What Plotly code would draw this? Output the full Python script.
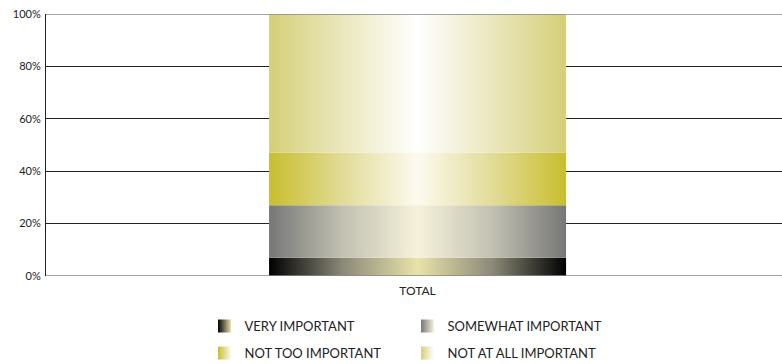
import plotly.graph_objects as go

# Survey response shares (percent of respondents), stacked bottom to top
categories = ["TOTAL"]
series_names = ["VERY IMPORTANT", "SOMEWHAT IMPORTANT", "NOT TOO IMPORTANT", "NOT AT ALL IMPORTANT"]
series_values = [7, 20, 20, 53]
y_tick_vals = [0, 20, 40, 60, 80, 100]
y_tick_text = ["0%", "20%", "40%", "60%", "80%", "100%"]

# Horizontal gradient for each segment: edge colour -> mid tone -> centre highlight
gradients = [
    ["#000000", "#8c8a78", "#e9e3a9"],
    ["#777777", "#c2c1b2", "#f6f2da"],
    ["#c8be2e", "#e2dc98", "#fcfaf0"],
    ["#d5cf78", "#ebe7be", "#ffffff"],
]
legend_ids = ["legend", "legend", "legend2", "legend2"]

FONT = "Lato, 'Open Sans', sans-serif"
half_width = 0.5
x_center = 0

fig = go.Figure()
base = 0
for name, val, grad, lg in zip(series_names, series_values, gradients, legend_ids):
    top = base + val
    xs = [x_center - half_width, x_center + half_width, x_center + half_width, x_center - half_width, x_center - half_width]
    ys = [base, base, top, top, base]
    edge, mid, centre = grad
    # stacked segment with a metallic horizontal sheen
    fig.add_trace(go.Scatter(
        x=xs, y=ys, name=name, mode="none", fill="toself",
        fillgradient=dict(
            type="horizontal",
            colorscale=[[0, edge], [0.25, mid], [0.5, centre], [0.75, mid], [1, edge]],
        ),
        legendgroup=name, showlegend=False,
        hoverinfo="name",
    ))
    # square legend key with the same sheen
    fig.add_trace(go.Scatter(
        x=[None], y=[None], name=name, mode="markers",
        marker=dict(symbol="square", size=13, color=edge,
                    gradient=dict(type="horizontal", color=centre),
                    line=dict(width=0)),
        legendgroup=name, legend=lg, hoverinfo="skip",
    ))
    base = top

legend_style = dict(
    orientation="h", x=0.2154, xanchor="left", yanchor="middle",
    entrywidth=158, entrywidthmode="pixels",
    font=dict(family=FONT, size=13, color="#222222"),
    bgcolor="rgba(0,0,0,0)",
)

fig.update_layout(
    width=782, height=364,
    margin=dict(l=46, r=0, t=14, b=88, autoexpand=False),
    plot_bgcolor="white", paper_bgcolor="white",
    font=dict(family=FONT, size=11, color="#222222"),
    showlegend=True,
    legend=dict(legend_style, y=-0.191),
    legend2=dict(legend_style, y=-0.294),
    xaxis=dict(
        range=[-1.251, 1.227], showgrid=False, zeroline=False,
        tickvals=[x_center], ticktext=categories, ticks="",
        tickfont=dict(family=FONT, size=12, color="#222222"),
        ticklabelstandoff=6,
        showline=False, fixedrange=True,
    ),
    yaxis=dict(
        range=[0, 100], tickvals=y_tick_vals, ticktext=y_tick_text,
        showgrid=True, gridcolor="#222222", gridwidth=1,
        zeroline=False, showline=True, linecolor="#222222", linewidth=1,
        ticks="", ticklabelstandoff=2, fixedrange=True,
    ),
)

# Lighter frame lines at the 0% and 100% bounds
for yv in (0, 100):
    fig.add_shape(type="line", xref="paper", yref="y", x0=0, x1=1, y0=yv, y1=yv,
                  line=dict(color="#888888", width=1.5), layer="above")

fig.write_html("out.html")
